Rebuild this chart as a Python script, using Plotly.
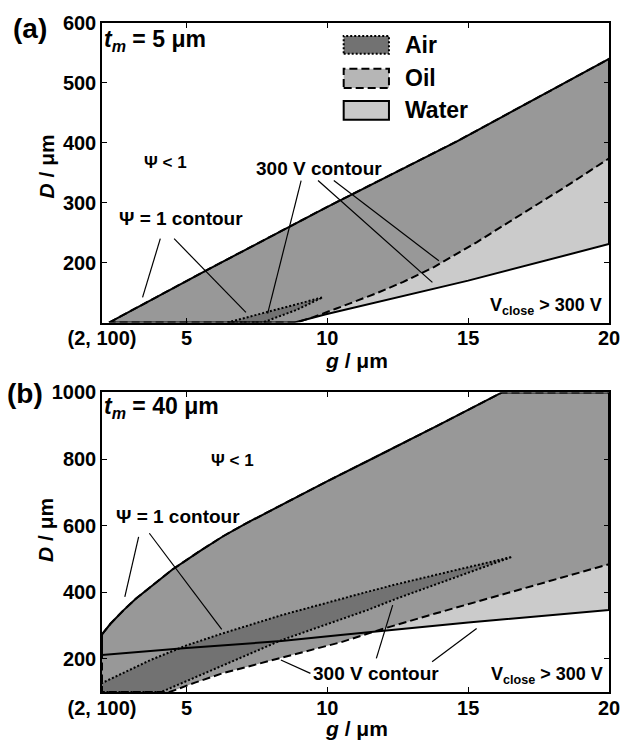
import plotly.graph_objects as go

# ---------------- data ----------------
# Panel (a): t_m = 5 um
a_top_g = [2.25, 5.74, 9.95, 14.62, 20.0]           # Psi = 1 contour (upper bound)
a_top_D = [100, 188, 292, 403, 540]
a_water_g = [8.84, 9.95, 12.0, 15.0, 20.0]          # 300 V contour, water (solid)
a_water_D = [100, 114, 137, 170, 231]
a_oil_g = [8.9, 9.5, 10.3, 11.0, 11.7, 12.7, 13.8, 15.3, 16.95, 18.5, 20.0]   # 300 V contour, oil
a_oil_D = [100, 109, 123, 135, 148, 168, 193, 234, 283, 328, 374]
a_air_upper_g = [6.45, 8.2, 9.83]                   # air region (dotted)
a_air_upper_D = [100, 122, 142]
a_air_lower_g = [7.7, 8.9, 9.83]
a_air_lower_D = [100, 121, 142]

# Panel (b): t_m = 40 um
b_top_g = [2.0, 2.3, 2.77, 3.2, 3.7, 4.5, 5.5, 6.3, 7.1, 8.0, 9.0, 10.04, 11.5, 12.58, 14.0, 16.2, 20.0]
b_top_D = [273, 305, 346, 380, 414, 468, 525, 568, 606, 646, 690, 735, 797, 843, 904, 1000, 1000]
b_water_g = [2.0, 5.0, 8.37, 10.47, 15.0, 20.0]
b_water_D = [211, 232, 253, 271, 309, 346]
b_oil_g = [2.0, 4.4, 5.3, 6.27, 8.37, 10.5, 11.9, 13.8, 15.86, 20.0]
b_oil_D = [100, 100, 128, 156, 203, 250, 288, 335, 386, 484]
b_air_upper_g = [2.0, 2.0, 3.72, 5.0, 6.28, 8.38, 11.42, 12.47, 14.5, 16.56]
b_air_upper_D = [100, 127, 196, 240, 276, 331, 401, 424, 465, 506]
b_air_lower_g = [4.1, 5.5, 8.38, 11.42, 12.47, 14.5]
b_air_lower_D = [100, 151, 256, 346, 381, 443]

x_tickvals = [2, 5, 10, 15, 20]
x_ticktext = ["(2, 100)", "5", "10", "15", "20"]
a_y_tickvals = [200, 300, 400, 500, 600]
b_y_tickvals = [200, 400, 600, 800, 1000]

# ---------------- styles ----------------
FONT = "Liberation Sans, Arial, sans-serif"
C_WATER = "#cbcbcb"
C_OIL = "#989898"
C_AIR = "#727272"
DASH = "8px,4px"
DOT = "2px,2px"


def polygon(top_g, top_D, bot_g, bot_D):
    xs = list(top_g) + list(bot_g)[::-1]
    ys = list(top_D) + list(bot_D)[::-1]
    return xs, ys


fig = go.Figure()

panels = [
    ("x", "y", (a_top_g, a_top_D), (a_water_g, a_water_D), (a_oil_g, a_oil_D),
     (a_air_upper_g, a_air_upper_D), (a_air_lower_g, a_air_lower_D)),
    ("x2", "y2", (b_top_g, b_top_D), (b_water_g, b_water_D), (b_oil_g, b_oil_D),
     (b_air_upper_g, b_air_upper_D), (b_air_lower_g, b_air_lower_D)),
]

for xa, ya, top, water, oil, airu, airl in panels:
    polys = [
        (polygon(top[0], top[1], water[0], water[1]), C_WATER, "solid"),
        (polygon(top[0], top[1], oil[0], oil[1]), C_OIL, DASH),
        (polygon(airu[0], airu[1], airl[0], airl[1]), C_AIR, DOT),
    ]
    # fills first
    for (xs, ys), col, _ in polys:
        fig.add_trace(go.Scatter(x=xs, y=ys, fill="toself", fillcolor=col,
                                 mode="lines", line=dict(width=0, color=col),
                                 hoverinfo="skip", showlegend=False,
                                 xaxis=xa, yaxis=ya))
    # outlines on top
    for (xs, ys), col, dash in polys:
        fig.add_trace(go.Scatter(x=xs + [xs[0]], y=ys + [ys[0]], mode="lines",
                                 line=dict(width=2, color="black", dash=dash),
                                 hoverinfo="skip", showlegend=False,
                                 xaxis=xa, yaxis=ya))

TOPM, BOTM = 22, 51
H = 743
plot_h = H - TOPM - BOTM
dom_a = [1 - 300 / plot_h, 1]
dom_b = [0, 300 / plot_h]

axis_common = dict(showline=True, linecolor="black", linewidth=1.5, mirror="ticks",
                   ticks="inside", ticklen=5, tickcolor="black", showgrid=False,
                   zeroline=False,
                   tickfont=dict(family=FONT, size=20, color="black", weight="bold"))

fig.update_layout(
    width=632, height=743,
    margin=dict(l=102, r=16, t=TOPM, b=BOTM),
    paper_bgcolor="white", plot_bgcolor="white",
    font=dict(family=FONT, color="black"),
    xaxis=dict(domain=[0, 1], anchor="y", range=[2, 20], tickvals=x_tickvals,
               ticktext=x_ticktext, ticklabelstandoff=-3, **axis_common),
    yaxis=dict(domain=dom_a, anchor="x", range=[100, 600], tickvals=a_y_tickvals,
               **axis_common),
    xaxis2=dict(domain=[0, 1], anchor="y2", range=[2, 20], tickvals=x_tickvals,
                ticktext=x_ticktext, ticklabelstandoff=-3, **axis_common),
    yaxis2=dict(domain=dom_b, anchor="x2", range=[100, 1000], tickvals=b_y_tickvals,
                **axis_common),
)

ann = []
shapes = []


def txt(text, x, y, xref, yref, size, xanchor="center", yanchor="middle", angle=0):
    ann.append(dict(text=text, x=x, y=y, xref=xref, yref=yref, showarrow=False,
                    xanchor=xanchor, yanchor=yanchor, textangle=angle,
                    font=dict(family=FONT, size=size, color="black")))


def seg(x0, y0, x1, y1, xref, yref):
    shapes.append(dict(type="line", x0=x0, y0=y0, x1=x1, y1=y1, xref=xref, yref=yref,
                       line=dict(color="black", width=1.2)))


def px2paper_x(px):
    return (px - 102) / 514


def py2paper_y(py):
    return (H - BOTM - py) / plot_h


# panel labels and axis titles
txt("<b>(a)</b>", px2paper_x(29), py2paper_y(28), "paper", "paper", 28)
txt("<b>(b)</b>", px2paper_x(24), py2paper_y(393), "paper", "paper", 28)
txt("<b><i>D</i> / μm</b>", px2paper_x(46), py2paper_y(166), "paper", "paper", 21, angle=-90)
txt("<b><i>D</i> / μm</b>", px2paper_x(44), py2paper_y(530), "paper", "paper", 21, angle=-90)
txt("<b><i>g</i> / μm</b>", px2paper_x(360), py2paper_y(360), "paper", "paper", 21)
txt("<b><i>g</i> / μm</b>", px2paper_x(360), py2paper_y(729), "paper", "paper", 21)

# panel (a) texts
txt("<b><i>t</i><sub><i>m</i></sub> = 5 μm</b>", 0.0, 0.94, "x domain", "y domain", 23, xanchor="left")
txt("<b>Ψ < 1</b>", 4.24, 367, "x", "y", 17)
txt("<b>300 V contour</b>", 9.70, 357, "x", "y", 19)
txt("<b>Ψ = 1 contour</b>", 4.80, 273, "x", "y", 19)
txt("<b>V<sub>close</sub> > 300 V</b>", 19.82, 126, "x", "y", 18, xanchor="right")
seg(4.07, 240, 3.44, 142, "x", "y")
seg(4.56, 240, 7.11, 117, "x", "y")
seg(9.07, 337, 7.88, 115, "x", "y")
seg(9.67, 337, 13.73, 167, "x", "y")
seg(10.23, 337, 13.96, 203, "x", "y")

# legend (panel a)
leg = [("Air", C_AIR, DOT, 0.897, 0.957),
       ("Oil", "#b6b6b6", DASH, 0.783, 0.847),
       ("Water", "#c9c9c9", "solid", 0.677, 0.740)]
for name, col, dash, y0, y1 in leg:
    shapes.append(dict(type="rect", xref="x domain", yref="y domain",
                       x0=0.4767, x1=0.566, y0=y0, y1=y1, fillcolor=col,
                       line=dict(color="black", width=2, dash=dash)))
    txt("<b>%s</b>" % name, 0.593, (y0 + y1) / 2, "x domain", "y domain", 23, xanchor="left")

# panel (b) texts
txt("<b><i>t</i><sub><i>m</i></sub> = 40 μm</b>", 0.0, 0.951, "x2 domain", "y2 domain", 23, xanchor="left")
txt("<b>Ψ < 1</b>", 6.62, 796, "x2", "y2", 17)
txt("<b>Ψ = 1 contour</b>", 4.71, 626, "x2", "y2", 19)
txt("<b>300 V contour</b>", 11.74, 156, "x2", "y2", 19)
txt("<b>V<sub>close</sub> > 300 V</b>", 19.85, 151, "x2", "y2", 18, xanchor="right")
seg(3.30, 566, 2.81, 386, "x2", "y2")
seg(3.68, 577, 6.25, 288, "x2", "y2")
seg(9.40, 156, 8.35, 196, "x2", "y2")
seg(11.74, 201, 12.32, 361, "x2", "y2")
seg(13.72, 191, 15.30, 291, "x2", "y2")

fig.update_layout(annotations=ann, shapes=shapes)
fig.write_html("out.html", config={"displayModeBar": False},
               post_script="document.body.style.margin='0';document.body.style.overflow='hidden';")
